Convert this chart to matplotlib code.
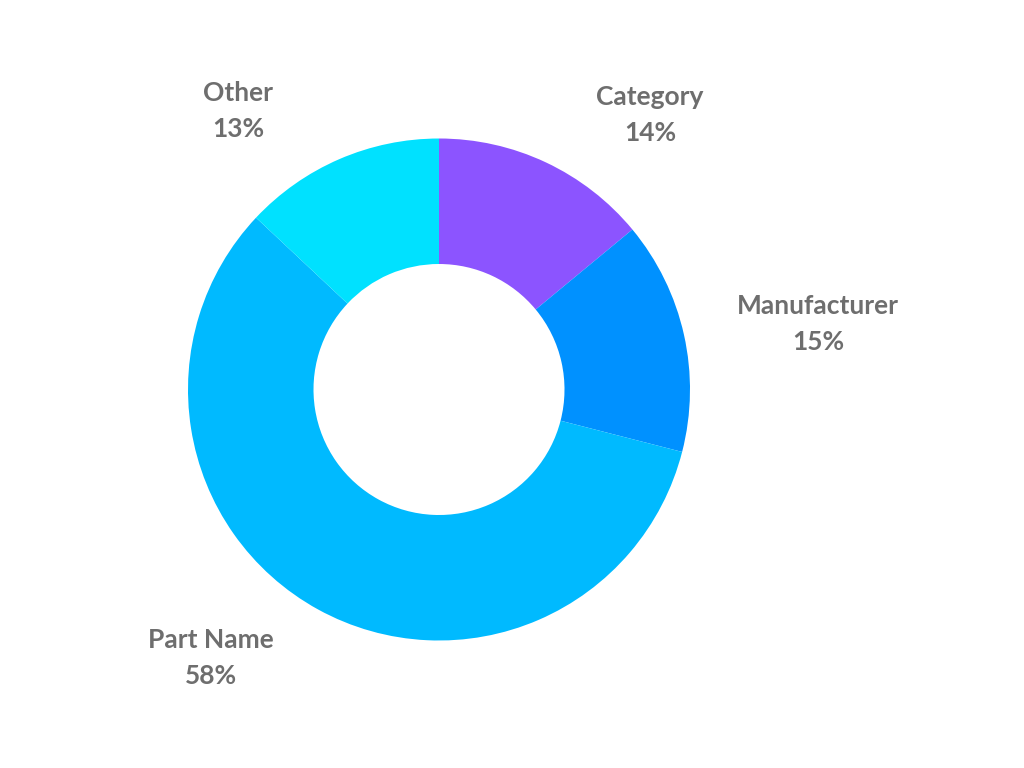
import matplotlib
matplotlib.use('Agg')
import matplotlib.pyplot as plt

labels = ['Category', 'Manufacturer', 'Part Name', 'Other']
shares = [14, 15, 58, 13]
colors = ['#8C54FF', '#0091FF', '#00BAFF', '#00E1FF']

# label anchors in pixels (x, y from top)
label_pos = [(650, 115), (818, 324), (211, 658), (238, 111)]

W, H = 1024, 768
cx, cy, R = 439, 389.5, 251

fig = plt.figure(figsize=(W / 100, H / 100), dpi=100)
ax = fig.add_axes([0, 0, 1, 1])
ax.pie(shares, colors=colors, startangle=90, counterclock=False,
       radius=R, center=(cx, H - cy),
       wedgeprops=dict(width=R / 2, linewidth=0))

for name, val, (px, py) in zip(labels, shares, label_pos):
    ax.text(px, H - py, f'{name}\n{val}%', ha='center', va='center',
            fontsize=19, fontfamily='Lato', fontweight='bold',
            color='#6E6E6E', linespacing=1.6)

ax.set_xlim(0, W)
ax.set_ylim(0, H)
ax.set_aspect('equal')
ax.axis('off')
fig.savefig('out.png', dpi=100)
